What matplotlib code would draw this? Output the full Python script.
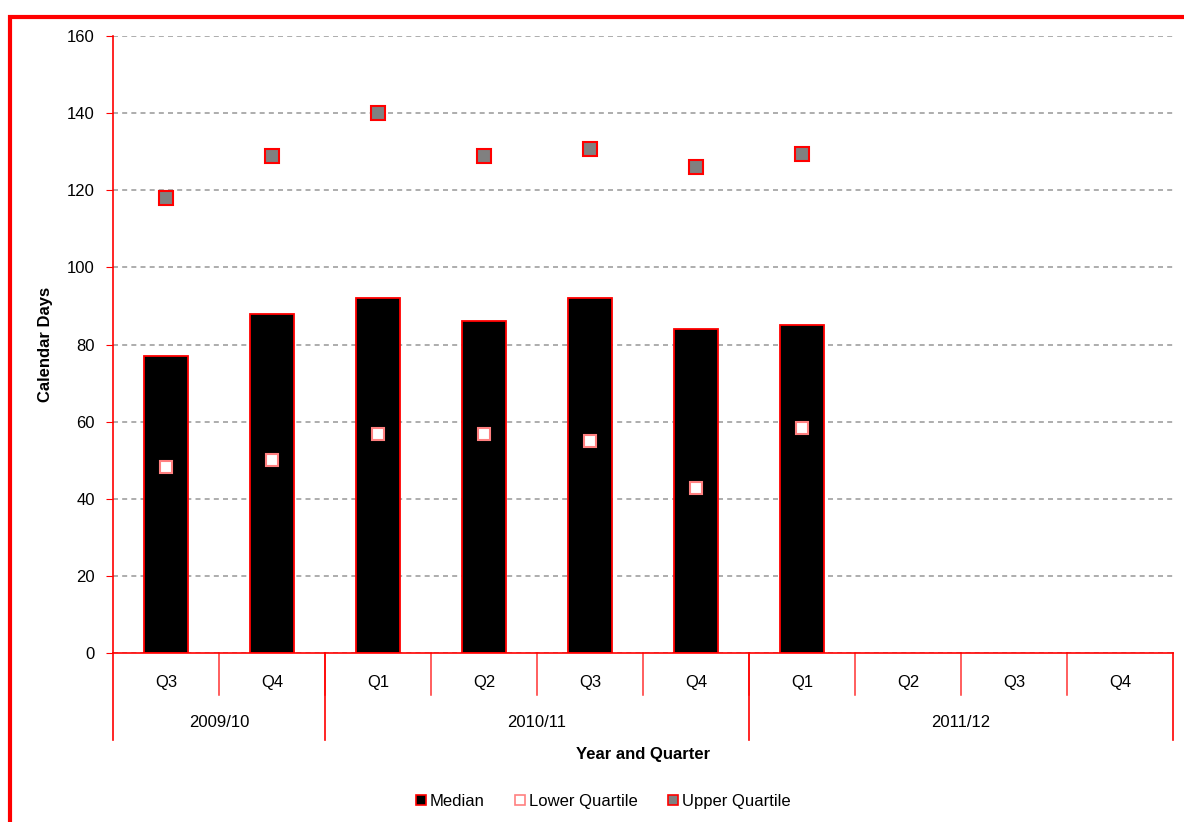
import matplotlib.pyplot as plt
from matplotlib.patches import Rectangle
from matplotlib.lines import Line2D
from matplotlib.transforms import blended_transform_factory

plt.rcParams['font.family'] = ['Liberation Sans', 'DejaVu Sans']

quarters = ['Q3', 'Q4', 'Q1', 'Q2', 'Q3', 'Q4', 'Q1', 'Q2', 'Q3', 'Q4']
years = ['2009/10', '2010/11', '2011/12']
year_sizes = [2, 4, 4]
median = [77, 88, 92, 86, 92, 84, 85]
lower_q = [48.2, 50, 56.8, 56.8, 55, 42.8, 58.4]
upper_q = [118, 129, 140, 129, 130.7, 126, 129.5]

fs = 12
fig = plt.figure(figsize=(11.84, 8.22), dpi=100)
ax = fig.add_axes([0.0954, 0.2056, 0.8953, 0.7506])

x = list(range(len(quarters)))
xm = x[:len(median)]
ax.bar(xm, median, width=0.42, color='black', edgecolor='red', linewidth=1.3, zorder=2)
ax.plot(xm, lower_q, 's', ms=9, mfc='white', mec='#ff8080', mew=1.5, zorder=3)
ax.plot(xm, upper_q, 's', ms=9.5, mfc='#808080', mec='red', mew=1.5, zorder=3)

ax.set_xlim(-0.5, len(quarters) - 0.5)
ax.set_ylim(0, 160)
ax.set_yticks(range(0, 161, 20))
ax.yaxis.grid(True, linestyle=(0, (3, 2.5)), color='#a0a0a0', linewidth=1.2)
ax.set_axisbelow(True)
for s in ['top', 'right']:
    ax.spines[s].set_visible(False)
ax.spines['left'].set_color('red')
ax.spines['bottom'].set_color('red')
ax.spines['left'].set_linewidth(1.2)
ax.spines['bottom'].set_linewidth(1.2)
ax.tick_params(axis='y', colors='red', labelcolor='black', labelsize=fs, length=5, pad=8)
ax.set_xticks([])
ax.set_ylabel('Calendar Days', fontsize=fs, fontweight='bold', labelpad=10)

# multi-level category axis
tr = blended_transform_factory(ax.transData, ax.transAxes)
for i, q in enumerate(quarters):
    ax.text(i, -0.048, q, transform=tr, ha='center', va='center', fontsize=fs)
for i in range(1, len(quarters)):
    ax.add_line(Line2D([i - 0.5, i - 0.5], [0, -0.068], transform=tr, color='red',
                       lw=1.1, clip_on=False, alpha=0.8))
start = 0
bounds = [-0.5]
for y, n in zip(years, year_sizes):
    ax.text(start + (n - 1) / 2, -0.113, y, transform=tr, ha='center', va='center', fontsize=fs)
    start += n
    bounds.append(start - 0.5)
for b in bounds:
    ax.add_line(Line2D([b, b], [0, -0.141], transform=tr, color='red', lw=1.2, clip_on=False))
ax.text(0.5, -0.165, 'Year and Quarter', transform=ax.transAxes, ha='center', va='center',
        fontsize=fs, fontweight='bold')

handles = [
    Line2D([], [], ls='', marker='s', ms=7.5, mfc='black', mec='red', mew=1.2),
    Line2D([], [], ls='', marker='s', ms=7.5, mfc='white', mec='#ff8080', mew=1.2),
    Line2D([], [], ls='', marker='s', ms=7.5, mfc='#808080', mec='red', mew=1.2),
]
fig.legend(handles, ['Median', 'Lower Quartile', 'Upper Quartile'], loc='center',
           bbox_to_anchor=(0.508, 0.025), ncol=3, frameon=False, fontsize=fs,
           handletextpad=0.05, columnspacing=1.6, handlelength=1)

fig.patches.append(Rectangle((10 / 1184, -0.05), 1.1, 1.05 - 17 / 822, transform=fig.transFigure,
                             fill=False, edgecolor='red', linewidth=3, figure=fig))

fig.savefig('out.png', dpi=100, facecolor='white')
